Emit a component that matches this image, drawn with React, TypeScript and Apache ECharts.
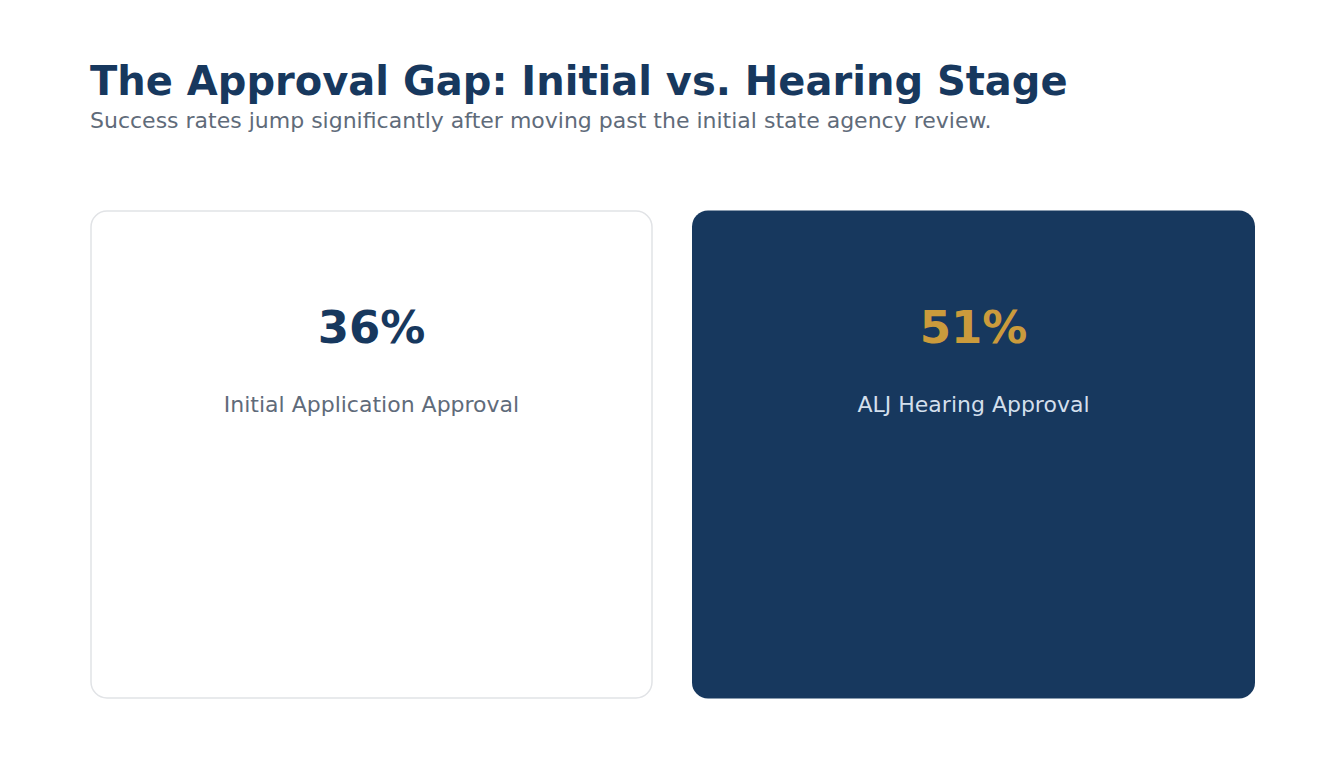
import React, { useEffect, useRef } from "react";
import * as echarts from "echarts";

const TITLE = "The Approval Gap: Initial vs. Hearing Stage";
const SUBTITLE = "Success rates jump significantly after moving past the initial state agency review.";
const stageLabels = ["Initial Application Approval", "ALJ Hearing Approval"];
const approvalRates = [36, 51];
const highlighted = [false, true];

const NAVY = "#17385e";
const GOLD = "#cb9b3c";

export default function App() {
  const ref = useRef<HTMLDivElement>(null);
  useEffect(() => {
    if (!ref.current) return;
    const chart = echarts.init(ref.current, null, { renderer: "svg" });
    const cardX = [91, 692];
    const cardWs = [561, 563];
    const cardY = 211;
    const cardH = 487;
    const cards: any[] = [];
    stageLabels.forEach((label, i) => {
      const hi = highlighted[i];
      const cardW = cardWs[i];
      const cx = cardX[i] + cardW / 2;
      cards.push({
        type: "rect",
        shape: hi
          ? { x: cardX[i], y: cardY - 0.5, width: cardW, height: cardH + 1, r: 16 }
          : { x: cardX[i], y: cardY, width: cardW, height: cardH, r: 16 },
        style: hi
          ? { fill: NAVY }
          : { fill: "#ffffff", stroke: "#e1e3e6", lineWidth: 1.5 },
      });
      cards.push({
        type: "text",
        x: cx,
        y: 327,
        style: {
          text: approvalRates[i] + "%",
          fill: hi ? GOLD : NAVY,
          font: "bold 45px 'DejaVu Sans'",
          align: "center",
          verticalAlign: "middle",
        },
      });
      cards.push({
        type: "text",
        x: cx,
        y: 404,
        style: {
          text: label,
          fill: hi ? "#d3dfec" : "#5f6b7a",
          font: "22px 'DejaVu Sans'",
          align: "center",
          verticalAlign: "middle",
        },
      });
    });
    chart.setOption({
      animation: false,
      backgroundColor: "#ffffff",
      graphic: [
        {
          type: "text",
          x: 90,
          y: 81,
          style: {
            text: TITLE,
            fill: NAVY,
            font: "bold 40px 'DejaVu Sans'",
            align: "left",
            verticalAlign: "middle",
          },
        },
        {
          type: "text",
          x: 90,
          y: 120,
          style: {
            text: SUBTITLE,
            fill: "#5f6b7a",
            font: "22px 'DejaVu Sans'",
            align: "left",
            verticalAlign: "middle",
          },
        },
        ...cards,
      ],
    });
    return () => chart.dispose();
  }, []);
  return <div ref={ref} style={{ width: 1344, height: 768, position: "absolute", left: 0, top: 0 }} />;
}
